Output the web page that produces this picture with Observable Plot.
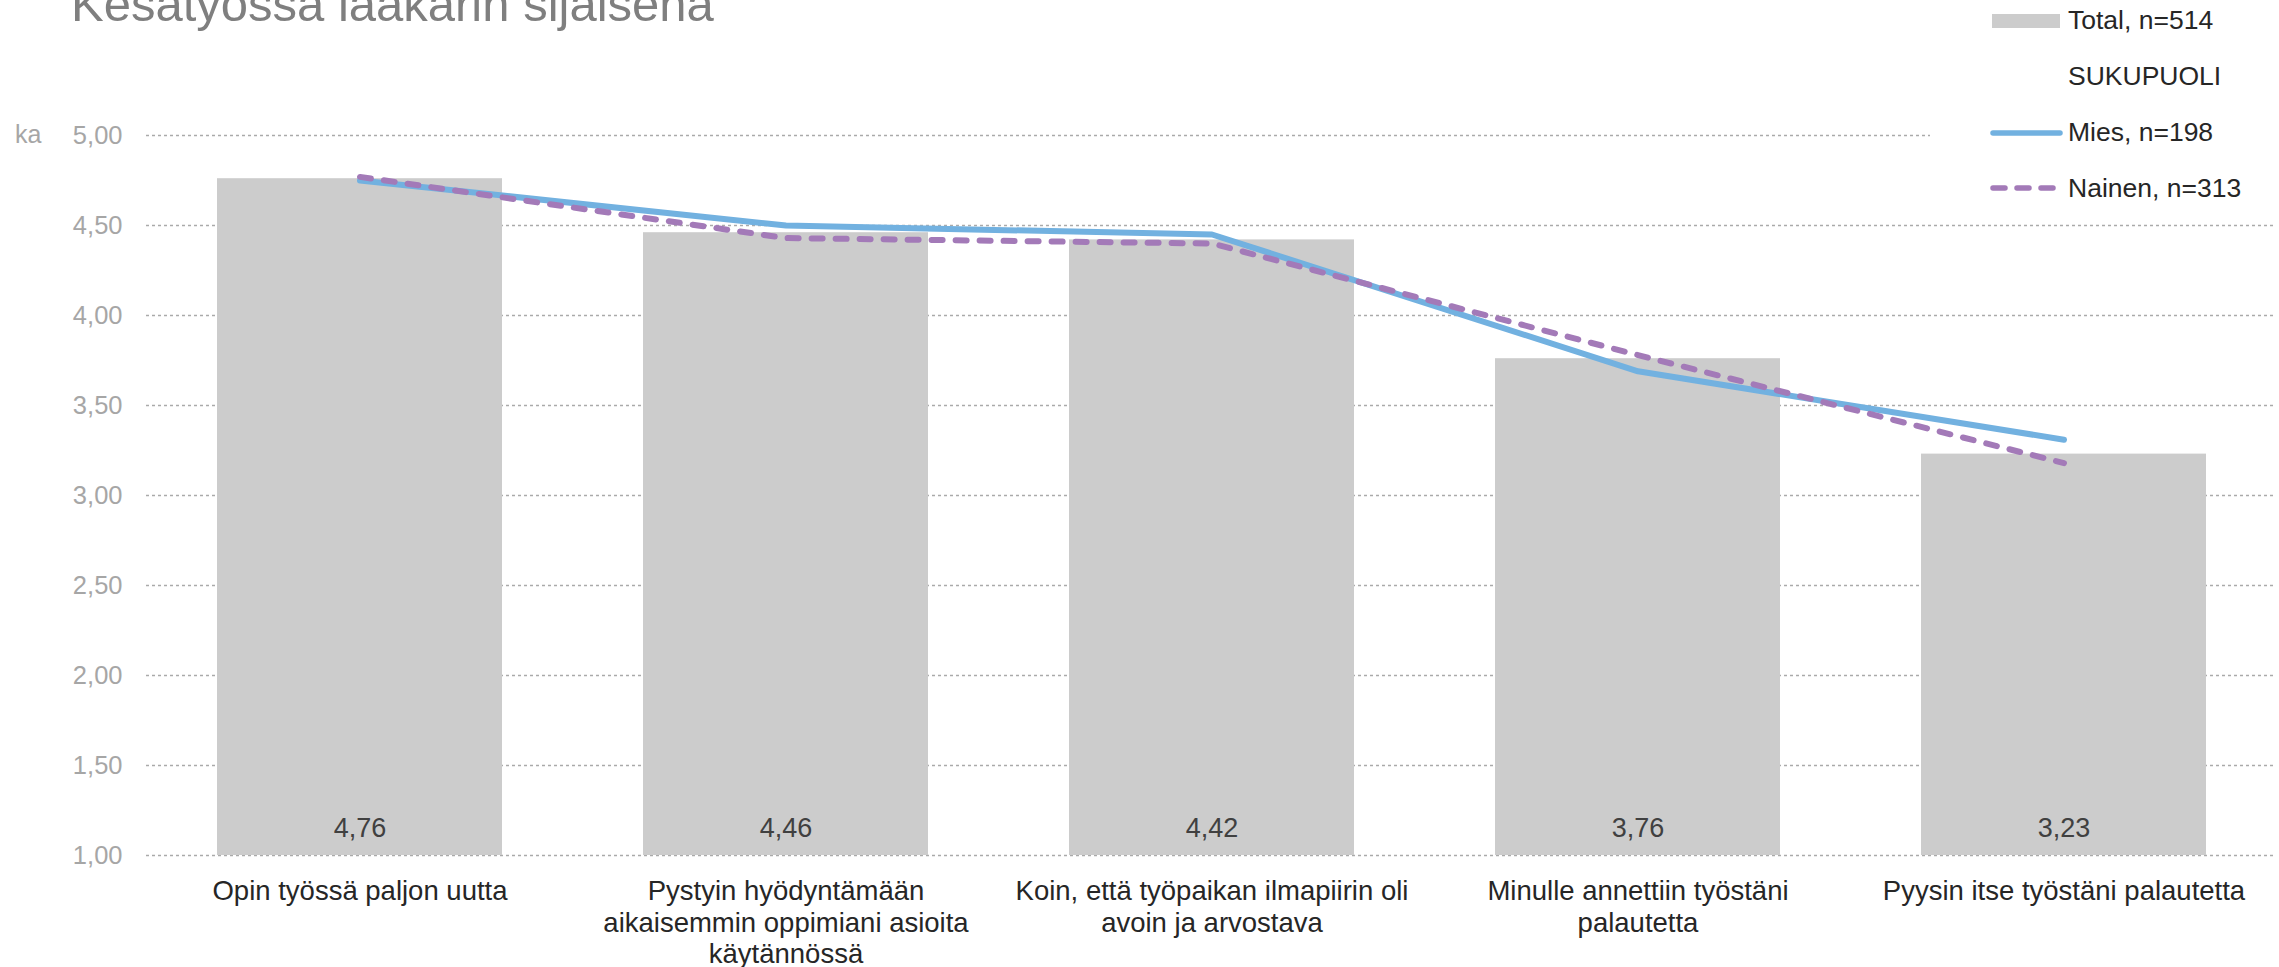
<!DOCTYPE html>
<html><head><meta charset="utf-8">
<script src="https://cdn.jsdelivr.net/npm/d3@7"></script>
<script src="https://cdn.jsdelivr.net/npm/@observablehq/plot@0.6"></script>
<style>
html,body{margin:0;padding:0;background:#fff;}
#wrap{position:relative;width:2279px;height:967px;overflow:hidden;font-family:"Liberation Sans",Arial,sans-serif;}
#chart{position:absolute;left:0;top:0;}
#overlay{position:absolute;left:0;top:0;pointer-events:none;}
</style></head><body>
<div id="wrap"><div id="chart"></div>
<svg id="overlay" width="2279" height="967" font-family="Liberation Sans, Arial, sans-serif">
  <text x="71" y="21" font-size="49" fill="#7f7f7f">Kesätyössä lääkärin sijaisena</text>
  <text x="15" y="143" font-size="25" fill="#a6a6a6">ka</text>
  <rect x="1930" y="0" width="349" height="205" fill="#fff"/>
  <rect x="1992" y="14" width="68" height="14" fill="#cccccc"/>
  <text x="2068" y="29" font-size="26.5" fill="#262626">Total, n=514</text>
  <text x="2068" y="85" font-size="26.5" fill="#262626">SUKUPUOLI</text>
  <line x1="1993" x2="2060" y1="133" y2="133" stroke="#72b1e0" stroke-width="5.5" stroke-linecap="round"/>
  <text x="2068" y="141" font-size="26.5" fill="#262626">Mies, n=198</text>
  <line x1="1993" x2="2060" y1="188" y2="188" stroke="#a37ab8" stroke-width="5.5" stroke-linecap="round" stroke-dasharray="12,12"/>
  <text x="2068" y="197" font-size="26.5" fill="#262626">Nainen, n=313</text>
</svg>
</div>
<script>
const categories = [
  "Opin työssä paljon uutta",
  "Pystyin hyödyntämään aikaisemmin oppimiani asioita käytännössä",
  "Koin, että työpaikan ilmapiirin oli avoin ja arvostava",
  "Minulle annettiin työstäni palautetta",
  "Pyysin itse työstäni palautetta"
];
const categoryLabels = [
  "Opin työssä paljon uutta",
  "Pystyin hyödyntämään\naikaisemmin oppimiani asioita\nkäytännössä",
  "Koin, että työpaikan ilmapiirin oli\navoin ja arvostava",
  "Minulle annettiin työstäni\npalautetta",
  "Pyysin itse työstäni palautetta"
];
const total = [4.76, 4.46, 4.42, 3.76, 3.23];
const mies = [4.75, 4.50, 4.45, 3.69, 3.31];
const nainen = [4.77, 4.43, 4.40, 3.78, 3.18];
const yTicks = [1.00, 1.50, 2.00, 2.50, 3.00, 3.50, 4.00, 4.50, 5.00];

const rows = categories.map((c, i) => ({category: c, total: total[i], mies: mies[i], nainen: nainen[i]}));
const f2 = d3.format(".2f");
const fi = v => f2(v).replace(".", ",");

const chart = Plot.plot({
  width: 2279, height: 967,
  marginLeft: 146, marginRight: 3, marginTop: 135, marginBottom: 112,
  style: {fontFamily: "Liberation Sans, Arial, sans-serif", background: "transparent", overflow: "visible"},
  x: {domain: categories, paddingInner: 0.331, paddingOuter: 0.1655, axis: null},
  y: {domain: [1, 5], axis: null},
  marks: [
    Plot.gridY(yTicks, {stroke: "#aaaaaa", strokeOpacity: 1, strokeDasharray: "3,3", strokeWidth: 1.3}),
    Plot.axisY(yTicks, {tickSize: 0, tickPadding: 24, tickFormat: fi, fontSize: 25.5, fill: "#a6a6a6", label: null}),
    Plot.barY(rows, {x: "category", y1: 1, y2: "total", fill: "#cccccc"}),
    Plot.text(rows, {x: "category", y: 1, dy: -27, text: d => fi(d.total), fontSize: 27, fill: "#404040"}),
    Plot.lineY(rows, {x: "category", y: "mies", stroke: "#72b1e0", strokeWidth: 6, strokeLinejoin: "round", strokeLinecap: "round"}),
    Plot.lineY(rows, {x: "category", y: "nainen", stroke: "#a37ab8", strokeWidth: 6, strokeDasharray: "11,13", strokeLinecap: "round", strokeLinejoin: "round"}),
    Plot.axisX({tickSize: 0, tickPadding: 22, tickFormat: d => categoryLabels[categories.indexOf(d)], fontSize: 27.5, fill: "#262626", lineHeight: 1.15, label: null})
  ]
});
document.getElementById("chart").appendChild(chart);
</script>
</body></html>
